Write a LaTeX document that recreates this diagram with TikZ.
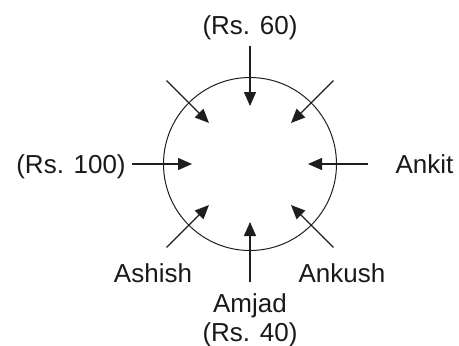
\documentclass[tikz,border=0pt]{standalone}
\usepackage{fontspec}
\setmainfont{Liberation Sans}
\usepackage{tikz}
\usetikzlibrary{
  arrows.meta,
  calc
}
\definecolor{linecolor}{RGB}{30, 30, 30}
\definecolor{labelcolor}{RGB}{25, 25, 25}
\tikzset{
namelabel/.style={
  anchor=base,
  font=\fontsize{26}{30}\selectfont,
  text=labelcolor,
  inner sep=0pt
},
table/.style={
  draw=linecolor,
  circle,
  line width=1pt,
  minimum size=173pt,
  inner sep=0pt
},
arrow/.style={
  -{Triangle[length=14pt,width=12pt]},
  line width=1.3pt,
  draw=linecolor
}
}
\begin{document}
\begin{tikzpicture}[x=1pt, y=-1pt]
  \useasboundingbox (0,0) rectangle (459,346);
  \node[table] (pool) at (250,164) {};
  % persons round the table
  \node[namelabel] (rsixty) at (250,34) {(Rs. 60)};
  \node[namelabel] (rhundred) at (71,173) {(Rs. 100)};
  \node[namelabel] (ankit) at (424.5,173) {Ankit};
  \node[namelabel] (ashish) at (153,282) {Ashish};
  \node[namelabel] (ankush) at (342,282) {Ankush};
  \node[namelabel] (amjad) at (250,312) {Amjad};
  \node[namelabel] (rforty) at (250,341) {(Rs. 40)};
  % seats
  \foreach \a in {0,45,...,315}{
    \coordinate (out\a) at ($(pool.center)+(\a:118)$);
    \coordinate (in\a) at ($(pool.center)+(\a:58)$);
    \draw[arrow] (out\a) -- (in\a);
  }
\end{tikzpicture}
\end{document}
